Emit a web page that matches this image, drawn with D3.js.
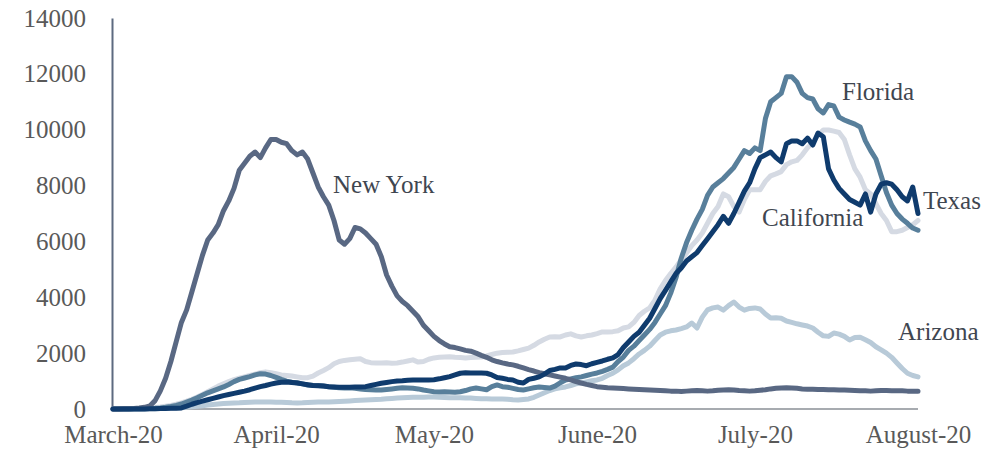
<!DOCTYPE html>
<html>
<head>
<meta charset="utf-8">
<script src="https://cdn.jsdelivr.net/npm/d3@7"></script>
<style>
  html, body { margin: 0; padding: 0; background: #ffffff; }
  svg { display: block; }
  text { font-family: "Liberation Serif", "Times New Roman", serif; }
</style>
</head>
<body>
<svg id="chart" width="997" height="459"></svg>
<script>
// ---- data: 7-day average of daily new cases, 1 March 2020 – 1 August 2020 (one value per day)
const startDate = "2020-03-01";
const monthTicks = ["2020-03-01", "2020-04-01", "2020-05-01", "2020-06-01", "2020-07-01", "2020-08-01"];
const yTicks = [0, 2000, 4000, 6000, 8000, 10000, 12000, 14000];
const seriesNames = ["California", "Arizona", "Florida", "New York", "Texas"];

const newYork = [0,0,5,10,20,35,60,110,300,650,
  1100,1700,2400,3100,3550,4200,4850,5500,6050,6300,
  6600,7100,7450,7900,8550,8800,9050,9200,9000,9350,
  9650,9650,9550,9500,9250,9100,9200,8950,8450,7950,
  7600,7300,6750,6050,5900,6100,6500,6450,6300,6100,
  5900,5450,4800,4400,4050,3850,3700,3500,3300,3000,
  2800,2600,2450,2330,2230,2200,2150,2100,2070,2000,
  1920,1850,1760,1700,1650,1610,1580,1530,1470,1410,
  1360,1300,1260,1220,1180,1140,1100,1040,980,930,
  880,840,800,780,760,750,740,730,720,710,
  700,690,680,670,660,650,640,640,630,640,
  650,660,650,640,650,670,680,690,680,660,
  650,640,650,670,690,720,740,750,760,750,
  740,720,710,710,700,700,690,690,680,680,
  670,660,650,650,640,650,660,660,650,650,
  650,640,640,640];

const florida = [0,0,2,3,5,8,10,15,25,40,
  60,90,130,180,250,320,400,490,580,650,
  720,790,880,980,1060,1110,1160,1220,1260,1250,
  1200,1130,1060,1000,960,940,900,860,840,840,
  820,800,780,760,750,760,740,720,700,690,
  680,680,700,720,740,760,750,740,720,680,
  650,620,610,620,610,600,620,660,720,750,
  720,690,800,860,800,780,740,700,680,720,
  760,790,770,750,820,940,1040,1080,1120,1150,
  1200,1250,1290,1350,1420,1500,1700,1860,2100,2250,
  2450,2650,2850,3100,3400,3700,4150,4700,5400,5950,
  6400,6800,7150,7650,7950,8100,8250,8450,8650,8950,
  9250,9150,9350,9250,10400,11000,11150,11300,11900,11900,
  11700,11300,11150,11100,10750,10600,10900,10850,10450,10350,
  10270,10200,10100,9600,9250,8950,8350,7750,7300,7000,
  6800,6650,6480,6400];

const texas = [0,0,0,0,0,0,0,5,10,15,
  20,25,30,40,100,170,230,280,330,380,
  430,480,520,560,600,640,690,750,800,840,
  890,930,960,970,950,930,900,870,840,830,
  820,800,790,780,780,780,790,790,800,840,
  880,920,950,980,1000,1010,1030,1040,1040,1040,
  1040,1050,1080,1120,1160,1220,1280,1300,1290,1290,
  1290,1280,1220,1130,1100,1060,1040,960,930,1060,
  1100,1150,1250,1380,1420,1470,1470,1560,1610,1590,
  1550,1620,1670,1720,1780,1830,1950,2200,2400,2600,
  2750,3000,3250,3600,3950,4250,4550,4850,5050,5300,
  5450,5600,5850,6100,6350,6600,6900,6650,7000,7400,
  7800,8100,8600,9000,9100,9200,9000,8850,9500,9600,
  9600,9500,9700,9450,9880,9750,8600,8200,7900,7700,
  7500,7400,7300,7700,7050,7700,8050,8100,8050,7850,
  7600,7450,7950,7000];

const california = [0,2,5,10,15,20,25,35,50,70,
  100,130,170,220,280,350,430,520,620,720,
  820,900,980,1050,1100,1150,1200,1250,1300,1330,
  1300,1260,1220,1200,1180,1150,1120,1120,1180,1290,
  1380,1480,1620,1700,1740,1760,1780,1800,1700,1660,
  1650,1650,1660,1640,1650,1680,1720,1760,1680,1700,
  1780,1830,1850,1860,1870,1850,1840,1830,1840,1850,
  1860,1900,1950,2000,2020,2030,2040,2080,2130,2180,
  2280,2400,2500,2580,2590,2580,2650,2690,2620,2580,
  2620,2650,2700,2760,2760,2770,2800,2900,2940,3100,
  3350,3500,3620,3900,4300,4600,4850,5080,5350,5580,
  5850,6050,6300,6650,7000,7250,7700,7600,7250,7050,
  7500,7850,7850,7850,8150,8350,8420,8500,8750,8850,
  8900,9100,9350,9550,9800,9990,9990,9950,9900,9650,
  9100,8600,8300,7850,7700,7350,7000,6750,6350,6350,
  6400,6500,6600,6750];

const arizona = [0,0,0,0,0,2,5,8,10,15,
  20,25,35,45,60,80,100,120,140,160,
  180,200,210,215,220,230,240,250,250,250,
  250,240,240,230,220,215,220,230,240,250,
  250,250,260,270,280,290,300,310,320,330,
  340,350,370,380,390,400,410,420,420,420,
  430,430,420,410,400,400,400,390,390,380,
  370,370,360,360,360,350,330,320,340,360,
  420,500,580,660,720,760,790,840,900,930,
  970,1010,1040,1100,1200,1280,1400,1550,1650,1800,
  1970,2100,2250,2450,2650,2750,2800,2830,2880,2940,
  3080,2900,3290,3550,3620,3650,3540,3700,3830,3650,
  3540,3600,3620,3580,3400,3260,3270,3250,3150,3100,
  3050,3010,2970,2900,2750,2620,2600,2720,2680,2600,
  2470,2560,2570,2480,2380,2230,2120,2000,1850,1650,
  1450,1280,1200,1150];

const seriesValues = [california, arizona, florida, newYork, texas];
const seriesColors = ["#d5dae3", "#b8cad8", "#587f9b", "#596883", "#0f3b6d"];
const labelPos = {
  "New York":   {x: 333, y: 193},
  "Florida":    {x: 842, y: 100},
  "Texas":      {x: 923, y: 209},
  "California": {x: 762, y: 226},
  "Arizona":    {x: 898, y: 340}
};

// ---- drawing
const svg = d3.select("#chart");
const parse = d3.utcParse("%Y-%m-%d");
const t0 = parse(startDate);

const x = d3.scaleUtc()
  .domain([parse(monthTicks[0]), parse(monthTicks[monthTicks.length - 1])])
  .range([113, 918]);
const y = d3.scaleLinear().domain([0, 14000]).range([409, 18]);

// y axis (labels + slate axis line)
const yAxis = svg.append("g")
  .attr("transform", "translate(112,0)")
  .call(d3.axisLeft(y).tickValues(yTicks).tickSize(0).tickPadding(26).tickFormat(d3.format("d")));
yAxis.select(".domain").attr("stroke", "#5d6a80").attr("stroke-width", 2);
yAxis.selectAll("text")
  .attr("fill", "#595959")
  .style("font-size", "25px")
  .style("font-family", "'Liberation Serif', serif");

// x axis
const xAxis = svg.append("g")
  .attr("transform", "translate(0,409)")
  .call(d3.axisBottom(x).tickValues(monthTicks.map(parse)).tickSize(0).tickPadding(16)
    .tickFormat(d3.utcFormat("%B-%y")));
xAxis.select(".domain").remove();
xAxis.selectAll("text")
  .attr("fill", "#595959")
  .style("font-size", "25px")
  .style("font-family", "'Liberation Serif', serif");

svg.append("line")
  .attr("x1", 112).attr("x2", x.range()[1])
  .attr("y1", y(0)).attr("y2", y(0))
  .attr("stroke", "#8a8f96").attr("stroke-width", 1.6);

// lines
const line = d3.line()
  .x((d, i) => x(d3.utcDay.offset(t0, i)))
  .y(d => y(d));

seriesNames.forEach((name, k) => {
  svg.append("path")
    .datum(seriesValues[k])
    .attr("fill", "none")
    .attr("stroke", seriesColors[k])
    .attr("stroke-width", 5)
    .attr("stroke-linejoin", "round")
    .attr("stroke-linecap", "round")
    .attr("d", line);
});

// series labels
seriesNames.forEach(name => {
  svg.append("text")
    .attr("x", labelPos[name].x)
    .attr("y", labelPos[name].y)
    .attr("fill", "#3f4650")
    .style("font-size", "25px")
    .text(name);
});
</script>
</body>
</html>
